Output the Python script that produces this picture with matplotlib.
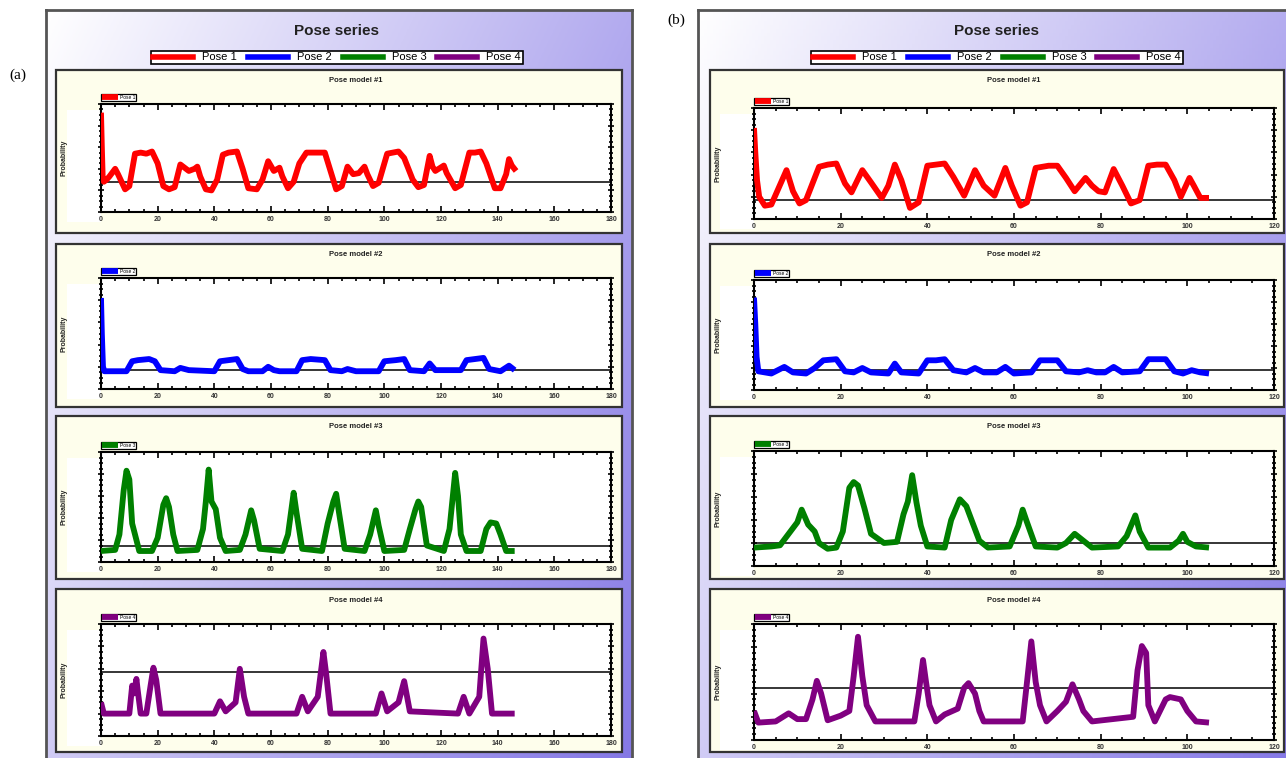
import numpy as np
import matplotlib
matplotlib.use("Agg")
import matplotlib.pyplot as plt
from matplotlib.patches import Rectangle
from matplotlib.lines import Line2D
from matplotlib.ticker import MultipleLocator

plt.rcParams["font.family"] = ["Liberation Sans", "DejaVu Sans"]

# ---- data (y as fraction of plot height) ----
pose_names = ["Pose 1", "Pose 2", "Pose 3", "Pose 4"]
pose_colors = ["#ff0000", "#0000ff", "#008000", "#800080"]

# panel (a), x 0..146
a1_x = [0, 0.3, 0.6, 1, 2, 3, 5, 6, 8.5, 10, 12, 14, 16, 18, 20, 22, 24, 26, 28, 30, 31, 33, 34, 35, 37, 39,
        41, 43, 45, 48, 50, 52, 55, 57, 59, 61, 63, 64, 66, 68, 70, 72.5, 76, 79, 81, 83, 85, 87, 89, 91, 93,
        94, 96, 98, 101, 103, 105, 107, 110, 112, 114, 116, 117, 118, 121, 122, 125, 127, 130, 132, 134, 136,
        139, 141, 143, 144, 145, 146.5]
a1_y = [0.92, 0.6, 0.32, 0.28, 0.30, 0.33, 0.40, 0.35, 0.21, 0.24, 0.54, 0.55, 0.54, 0.56, 0.45, 0.24, 0.21,
        0.23, 0.44, 0.40, 0.38, 0.40, 0.42, 0.33, 0.21, 0.20, 0.30, 0.53, 0.55, 0.56, 0.40, 0.22, 0.21, 0.30,
        0.47, 0.38, 0.41, 0.33, 0.22, 0.28, 0.45, 0.55, 0.55, 0.55, 0.38, 0.21, 0.24, 0.42, 0.35, 0.36, 0.42,
        0.35, 0.24, 0.27, 0.54, 0.55, 0.56, 0.50, 0.30, 0.23, 0.25, 0.52, 0.42, 0.38, 0.43, 0.36, 0.22, 0.25,
        0.55, 0.55, 0.56, 0.45, 0.22, 0.22, 0.35, 0.49, 0.43, 0.38]

a2_x = [0, 0.3, 0.7, 1.2, 5, 9, 11, 13, 17, 19, 21, 26, 28, 31, 40, 42, 45, 48, 50, 52, 57, 59, 61, 63, 69,
        71, 74, 79, 81, 85, 87, 90, 98, 100, 104, 107, 109, 114, 116, 118, 122, 127, 129, 132, 135, 137, 141,
        144, 146]
a2_y = [0.82, 0.5, 0.2, 0.16, 0.16, 0.16, 0.25, 0.26, 0.27, 0.25, 0.17, 0.16, 0.19, 0.17, 0.16, 0.25, 0.26,
        0.27, 0.18, 0.16, 0.16, 0.20, 0.17, 0.16, 0.16, 0.26, 0.27, 0.26, 0.17, 0.16, 0.18, 0.16, 0.16, 0.25,
        0.26, 0.27, 0.17, 0.16, 0.23, 0.17, 0.17, 0.17, 0.26, 0.27, 0.28, 0.18, 0.16, 0.21, 0.17]

a3_x = [0, 5, 6.5, 8, 9, 10, 11, 12, 13.5, 18, 20, 22, 23, 24, 25.5, 27, 34, 36, 37, 38, 39, 40.5, 42, 44,
        49, 51, 53, 54, 56, 64, 66, 68, 69, 71, 78, 80, 82, 83, 84, 86, 93, 95, 97, 98, 100, 107, 109, 111,
        112, 113, 115, 121, 123, 125, 126, 127, 129, 134, 136, 137.5, 139.5, 141, 143, 146]
a3_y = [0.10, 0.11, 0.25, 0.65, 0.83, 0.75, 0.35, 0.25, 0.10, 0.10, 0.22, 0.52, 0.58, 0.50, 0.25, 0.10,
        0.11, 0.30, 0.55, 0.84, 0.55, 0.48, 0.22, 0.10, 0.11, 0.25, 0.47, 0.38, 0.12, 0.10, 0.25, 0.63, 0.45,
        0.12, 0.10, 0.35, 0.55, 0.62, 0.45, 0.12, 0.10, 0.25, 0.47, 0.33, 0.10, 0.11, 0.30, 0.48, 0.55, 0.50,
        0.15, 0.10, 0.30, 0.81, 0.60, 0.25, 0.10, 0.10, 0.30, 0.36, 0.35, 0.25, 0.10, 0.10]

a4_x = [0, 0.5, 1, 10, 11, 11.7, 12.5, 13, 14, 16, 17.5, 18.5, 19.5, 21, 40, 42, 44, 47.5, 49, 50.5, 52, 69,
        71, 73, 76.5, 78.5, 79.5, 81, 97, 99, 101, 105, 107, 109, 126, 128, 130, 133.5, 135, 136.5, 138, 146]
a4_y = [0.30, 0.25, 0.20, 0.20, 0.45, 0.38, 0.51, 0.40, 0.20, 0.20, 0.45, 0.61, 0.50, 0.20, 0.20, 0.31,
        0.22, 0.30, 0.60, 0.35, 0.20, 0.20, 0.35, 0.22, 0.35, 0.75, 0.55, 0.20, 0.20, 0.38, 0.22, 0.30, 0.49,
        0.22, 0.20, 0.35, 0.20, 0.35, 0.87, 0.60, 0.20, 0.20]

# panel (b), x 0..105
b1_x = [0, 0.3, 0.7, 1.2, 2.5, 4, 7.5, 9, 10.5, 12, 15, 17, 19, 21, 22.5, 25, 27, 29.5, 31, 32.5, 34, 36,
        38, 40, 42, 44, 46, 48.5, 51, 53, 55.5, 58, 59.5, 61.5, 63, 65, 68, 70, 72, 74, 76.5, 78, 79.5, 81,
        83, 85, 87, 89, 91, 93, 95, 97, 98.5, 100.5, 101.5, 103, 105]
b1_y = [0.82, 0.6, 0.35, 0.2, 0.12, 0.13, 0.44, 0.25, 0.14, 0.17, 0.47, 0.49, 0.50, 0.32, 0.24, 0.44, 0.33,
        0.19, 0.30, 0.49, 0.35, 0.10, 0.15, 0.48, 0.49, 0.50, 0.38, 0.21, 0.44, 0.30, 0.21, 0.46, 0.30, 0.12,
        0.15, 0.46, 0.48, 0.48, 0.37, 0.25, 0.37, 0.30, 0.25, 0.24, 0.45, 0.30, 0.14, 0.17, 0.48, 0.49, 0.49,
        0.35, 0.20, 0.37, 0.30, 0.19, 0.19]

b2_x = [0, 0.3, 0.6, 1, 4, 7, 9, 12, 14, 16, 19, 21, 23, 25, 27, 31, 32.5, 34, 38, 40, 42, 44, 46, 49, 51,
        53, 56, 58, 60, 64, 66, 70, 72, 75, 77, 79, 81, 83, 85, 89, 91, 95, 97, 99, 101, 103, 105]
b2_y = [0.84, 0.6, 0.3, 0.17, 0.15, 0.21, 0.16, 0.15, 0.20, 0.27, 0.28, 0.17, 0.16, 0.20, 0.16, 0.15, 0.24,
        0.16, 0.15, 0.27, 0.27, 0.28, 0.18, 0.16, 0.20, 0.16, 0.16, 0.21, 0.15, 0.16, 0.27, 0.27, 0.17, 0.16,
        0.18, 0.16, 0.16, 0.21, 0.16, 0.17, 0.28, 0.28, 0.17, 0.15, 0.18, 0.16, 0.15]

b3_x = [0, 4, 6, 8, 10, 11, 12.5, 14, 15, 17, 19, 20.5, 22, 23, 24, 25.5, 27, 30, 33, 34.5, 35.5, 36.5, 37.5,
        38.5, 40, 44, 45.5, 47.5, 49, 52, 54, 59, 61, 62, 63, 65, 70, 72, 74, 76, 78, 84, 86, 88, 89, 91, 96,
        98, 99, 100, 102, 105]
b3_y = [0.16, 0.17, 0.18, 0.28, 0.38, 0.49, 0.36, 0.30, 0.20, 0.15, 0.16, 0.30, 0.68, 0.73, 0.70, 0.50,
        0.28, 0.20, 0.21, 0.45, 0.56, 0.79, 0.55, 0.35, 0.17, 0.16, 0.40, 0.58, 0.52, 0.22, 0.16, 0.17, 0.35,
        0.49, 0.38, 0.17, 0.16, 0.20, 0.28, 0.22, 0.16, 0.17, 0.26, 0.44, 0.30, 0.16, 0.16, 0.22, 0.28, 0.21,
        0.17, 0.16]

b4_x = [0, 0.5, 1, 5, 8, 10, 12, 13.5, 14.5, 15.5, 17, 20, 22, 23, 24, 25, 26, 28, 37, 38, 39, 39.7, 40.5,
        42, 44, 47, 48.5, 49.5, 51, 52, 53, 62, 63, 64, 65, 66, 67.5, 70, 72, 73.5, 75, 76, 78, 87.5, 88.5,
        89.5, 90.5, 91, 92.5, 95, 96, 98.5, 100, 102, 105]
b4_y = [0.25, 0.20, 0.15, 0.16, 0.23, 0.18, 0.18, 0.35, 0.51, 0.40, 0.17, 0.21, 0.25, 0.55, 0.89, 0.55, 0.30,
        0.16, 0.16, 0.40, 0.69, 0.50, 0.30, 0.16, 0.22, 0.27, 0.45, 0.49, 0.40, 0.25, 0.16, 0.16, 0.50, 0.85,
        0.50, 0.30, 0.16, 0.25, 0.33, 0.48, 0.35, 0.25, 0.16, 0.20, 0.60, 0.81, 0.75, 0.30, 0.16, 0.35, 0.37,
        0.35, 0.25, 0.16, 0.15]

# black reference line level per sub-plot
a_ref = [0.28, 0.17, 0.146, 0.57]
b_ref = [0.173, 0.18, 0.20, 0.45]

W, H = 1286, 758
fig = plt.figure(figsize=(W / 100, H / 100), dpi=100)
fig.patch.set_facecolor("white")


def fx(px):
    return px / W


def fy(py):
    return 1 - py / H


def frame_axes(x0, y0, x1, y1, z):
    return fig.add_axes([fx(x0), fy(y1), fx(x1) - fx(x0), fy(y0) - fy(y1)], zorder=z)


def draw_panel(px0, px1, label, label_xy, series, refs, xmax, axes_x, tops, bottoms, box_x, box_tops):
    # gradient background
    bg = frame_axes(px0, 10, px1, 762, 0)
    u, v = np.meshgrid(np.linspace(0, 1, 200), np.linspace(0, 1, 200))
    t = np.clip(0.62 * u + 0.38 * v, 0, 1)
    c0 = np.array([1.0, 1.0, 1.0])
    c1 = np.array([0.52, 0.47, 0.90])
    img = c0[None, None, :] * (1 - t[..., None]) + c1[None, None, :] * t[..., None]
    bg.imshow(img, aspect="auto", extent=[0, 1, 0, 1], origin="upper")
    bg.set_xticks([])
    bg.set_yticks([])
    for s in bg.spines.values():
        s.set_color("#555555")
        s.set_linewidth(2)

    cx = (px0 + min(px1, 1300)) / 2 - 2
    fig.text(fx(cx), fy(31), "Pose series", ha="center", va="center", fontsize=11, fontweight="bold",
             color="#222222", zorder=5)
    handles = [Line2D([], [], color=c, lw=4) for c in pose_colors]
    leg = fig.legend(handles, pose_names, loc="center", bbox_to_anchor=(fx(cx), fy(57.5)), ncol=4,
                     fontsize=8, handlelength=3.6, handletextpad=0.8, columnspacing=1.0,
                     borderpad=0.15, fancybox=False, framealpha=1, edgecolor="black")
    leg.get_frame().set_linewidth(1.2)
    leg.set_zorder(6)

    fig.text(fx(label_xy[0]), fy(label_xy[1]), label, ha="center", va="center", fontsize=11,
             family=["Liberation Serif", "DejaVu Serif"])

    for i, (xs, ys) in enumerate(series):
        top, bot, btop = tops[i], bottoms[i], box_tops[i]
        box = Rectangle((fx(box_x[0]), fy(btop + 163)), fx(box_x[1]) - fx(box_x[0]), 163 / H,
                        transform=fig.transFigure, facecolor="#fefeec", edgecolor="#333333", lw=1.6,
                        zorder=1)
        fig.add_artist(box)
        wb = Rectangle((fx(axes_x[0] - 34), fy(bot + 10)), 34 / W, (bot + 10 - top - 6) / H,
                       transform=fig.transFigure, facecolor="white", edgecolor="none", zorder=2)
        fig.add_artist(wb)
        fig.text(fx((axes_x[0] + axes_x[1]) / 2), fy(btop + 11), "Pose model #%d" % (i + 1), ha="center",
                 va="center", fontsize=5.5, fontweight="bold", color="#222222", zorder=5)

        ax = frame_axes(axes_x[0], top, axes_x[1], bot, 3)
        ax.plot(xs, ys, color=pose_colors[i], lw=4.2, solid_joinstyle="round", solid_capstyle="butt",
                label=pose_names[i], zorder=3)
        ax.axhline(refs[i], color="black", lw=1.1, zorder=2)
        ax.set_xlim(0, xmax)
        ax.set_ylim(0, 1)
        ax.xaxis.set_major_locator(MultipleLocator(20))
        ax.xaxis.set_minor_locator(MultipleLocator(5))
        ax.yaxis.set_major_locator(MultipleLocator(0.2))
        ax.yaxis.set_minor_locator(MultipleLocator(0.05))
        ax.tick_params(axis="both", which="both", direction="in", top=True, right=True, width=1.2,
                       colors="black", labelsize=5, labelcolor="#333333")
        ax.tick_params(axis="both", which="major", length=4)
        ax.tick_params(axis="both", which="minor", length=2.5)
        ax.tick_params(axis="y", which="both", direction="inout", labelleft=False)
        ax.tick_params(axis="x", pad=3)
        for lab in ax.get_xticklabels():
            lab.set_fontweight("bold")
        for s in ax.spines.values():
            s.set_linewidth(1.5)
        ax.set_ylabel("Probability", fontsize=5, fontweight="bold", color="#222222")
        ax.yaxis.set_label_coords(-33 / (axes_x[1] - axes_x[0]), 0.5)
        lg = ax.legend(loc="lower left", bbox_to_anchor=(0, 1 + 3 / (bot - top)), fontsize=3.5,
                       handlelength=3.2, handletextpad=0.4, borderpad=0.25, borderaxespad=0,
                       fancybox=False, framealpha=1, edgecolor="black")
        lg.get_frame().set_linewidth(0.9)


draw_panel(46, 632, "(a)", (18, 75), [(a1_x, a1_y), (a2_x, a2_y), (a3_x, a3_y), (a4_x, a4_y)], a_ref, 180,
           (101, 611), [104, 278, 452, 624], [212, 389, 562, 736], (56, 622), [70, 244, 416, 589])
draw_panel(698, 1300, "(b)", (676, 20), [(b1_x, b1_y), (b2_x, b2_y), (b3_x, b3_y), (b4_x, b4_y)], b_ref, 120,
           (754, 1274), [108, 280, 451, 624], [219, 390, 566, 740], (710, 1284), [70, 244, 416, 589])

fig.savefig("out.png", dpi=100)
